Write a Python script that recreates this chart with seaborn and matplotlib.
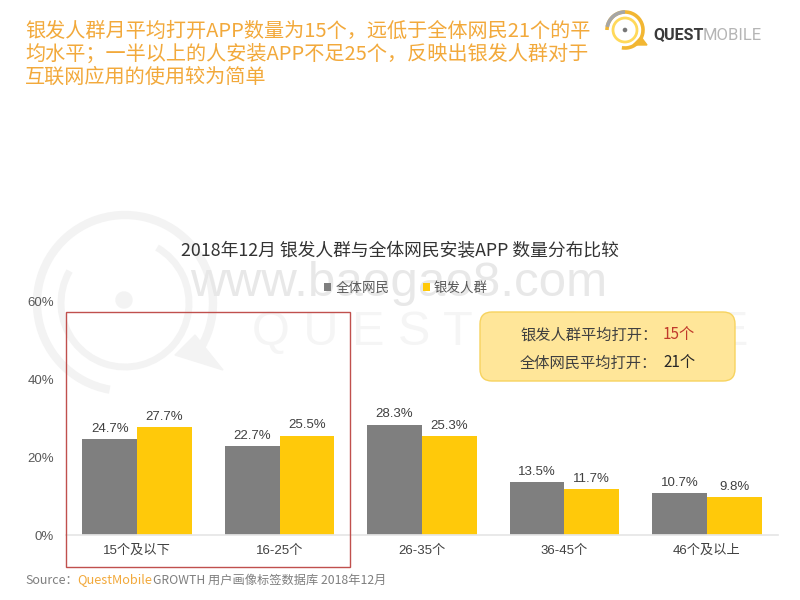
import matplotlib
matplotlib.use("Agg")
import matplotlib.pyplot as plt
from matplotlib.patches import Circle, Arc, FancyBboxPatch, Rectangle, Polygon
import pandas as pd
import seaborn as sns

CATEGORIES = ["15个及以下", "16-25个", "26-35个", "36-45个", "46个及以上"]
ALL_USERS = [24.7, 22.7, 28.3, 13.5, 10.7]
SILVER_USERS = [27.7, 25.5, 25.3, 11.7, 9.8]
SERIES_NAMES = ["全体网民", "银发人群"]
COLORS = ["#7F7F7F", "#FFC90A"]
Y_TICKS = [0, 20, 40, 60]

HEADLINE = [
    "银发人群月平均打开APP数量为15个，远低于全体网民21个的平",
    "均水平；一半以上的人安装APP不足25个，反映出银发人群对于",
    "互联网应用的使用较为简单",
]
TITLE = "2018年12月 银发人群与全体网民安装APP 数量分布比较"

sns.set_theme(style="white")
plt.rcParams["font.family"] = ["Noto Sans CJK SC", "DejaVu Sans"]
ARIAL_CJK = ["Liberation Sans", "Noto Sans CJK SC"]

df = pd.DataFrame({
    "group": CATEGORIES * 2,
    "series": [SERIES_NAMES[0]] * 5 + [SERIES_NAMES[1]] * 5,
    "value": ALL_USERS + SILVER_USERS,
})

fig = plt.figure(figsize=(8, 6), dpi=100, facecolor="white")

# pixel-coordinate layers, one behind the chart and one on top
bg = fig.add_axes([0, 0, 1, 1], zorder=0)
bg.set_xlim(0, 800)
bg.set_ylim(600, 0)
bg.axis("off")

ax = fig.add_axes([66 / 800, 1 - 535 / 600, 712 / 800, 234 / 600], zorder=1)
ax.patch.set_alpha(0)

top = fig.add_axes([0, 0, 1, 1], zorder=2)
top.set_xlim(0, 800)
top.set_ylim(600, 0)
top.axis("off")

# watermark
wm = "#F3F3F3"
bg.add_patch(Arc((125, 303), 176, 176, theta1=100, theta2=35, ec=wm, lw=6))
bg.add_patch(Arc((125, 303), 128, 128, theta1=-60, theta2=210, ec=wm, lw=5))
bg.add_patch(Circle((124, 300), 8, color=wm))
bg.add_patch(Polygon([[175, 355], [223, 370], [195, 335]], color=wm))
bg.text(190, 283, "www.baogao8.com", fontsize=35.5, color="#E8E8E8", va="center", ha="left",
        family="Liberation Sans")
bg.text(252, 332, "Q U E S T  M O B I L E", fontsize=35, color="#F5F5F5", va="center", ha="left",
        family="Liberation Sans")

# chart
sns.barplot(data=df, x="group", y="value", hue="series", palette=COLORS,
            width=0.77, gap=0, saturation=1, linewidth=0, ax=ax, legend=True)
ax.set_ylim(0, 60)
ax.set_xlim(-0.5, 4.5)
ax.set_xlabel("")
ax.set_ylabel("")
ax.set_yticks(Y_TICKS)
ax.set_yticklabels([f"{v}%" for v in Y_TICKS], fontsize=9.5, color="#595959", family=ARIAL_CJK)
ax.tick_params(axis="x", length=0, pad=7, labelsize=9.5, labelcolor="#404040")
ax.tick_params(axis="y", length=0, pad=8.5)
for lab in ax.get_xticklabels():
    lab.set_family(ARIAL_CJK)
for side in ["top", "right", "left"]:
    ax.spines[side].set_visible(False)
ax.spines["bottom"].set_color("#E6E6E6")

for cont in ax.containers:
    ax.bar_label(cont, fmt="%.1f%%", fontsize=9.5, color="#404040", padding=3,
                 family=ARIAL_CJK)

ax.legend(loc="center", bbox_to_anchor=((406 - 66) / 712, (535 - 288) / 234),
          ncol=2, frameon=False, fontsize=9.7, labelcolor="#595959",
          handlelength=0.5, handleheight=0.5, handletextpad=0.3, columnspacing=2.5)

# headline
for line, y in zip(HEADLINE, [31, 54, 77]):
    top.text(25, y, line, fontsize=14.5, color="#F2A93B", va="center", ha="left")

top.text(400, 251, TITLE, fontsize=12.8, color="#333333", va="center", ha="center")

# logo
top.add_patch(Arc((625, 30), 36, 36, theta1=-180, theta2=100, ec="#F2B632", lw=2.6))
top.add_patch(Arc((625, 30), 24, 24, theta1=0, theta2=360, ec="#FFD95A", lw=2))
top.add_patch(Arc((625, 30), 36, 36, theta1=190, theta2=270, ec="#A6A6A6", lw=2.6))
top.add_patch(Circle((625, 30), 1.6, color="#777777"))
top.add_patch(Polygon([[633, 45], [647, 45], [641, 37]], color="#F2B632"))
top.text(653, 35, "QUEST", fontsize=11.5, fontweight="bold", color="#3A3A3A",
         va="center", ha="left", family="Roboto")
top.text(703, 35, "MOBILE", fontsize=12, color="#B5B5B5", va="center", ha="left",
         family="Roboto")

# highlight frame
top.add_patch(Rectangle((66, 312), 284, 255, fill=False, ec="#C0504D", lw=1))

# callout
top.add_patch(FancyBboxPatch((488, 320), 239, 53, boxstyle="round,pad=8,rounding_size=12",
                             fc="#FFE699", ec="#F7D35F", lw=1))
top.text(520, 335, "银发人群平均打开：", fontsize=11, color="#404040", va="center", ha="left")
top.text(663, 335, "15个", fontsize=11, color="#C0392B", va="center", ha="left")
top.text(520, 363, "全体网民平均打开：", fontsize=11, color="#404040", va="center", ha="left")
top.text(663, 363, "21个", fontsize=11, color="#262626", va="center", ha="left")

# source line
top.text(25, 580, "Source：", fontsize=9, color="#7F7F7F", va="center", ha="left")
top.text(77, 580, "QuestMobile", fontsize=9.2, color="#F2A93B", va="center", ha="left")
top.text(153, 580, "GROWTH 用户画像标签数据库 2018年12月", fontsize=8.8, color="#7F7F7F",
         va="center", ha="left")

fig.savefig("out.png", dpi=100)
